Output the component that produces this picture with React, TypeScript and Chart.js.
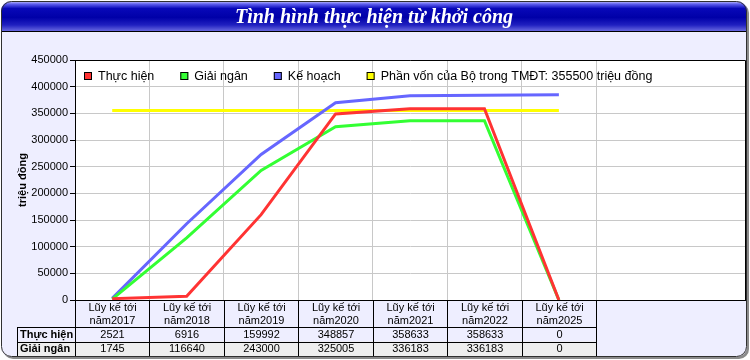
import React, { useEffect, useRef } from 'react';
import { Chart, registerables } from 'chart.js';

Chart.register(...registerables);

const TITLE = 'Tình hình thực hiện từ khởi công';
const Y_TITLE = 'triệu đồng';
const HEADER_LINE1 = ['Lũy kế tới', 'Lũy kế tới', 'Lũy kế tới', 'Lũy kế tới', 'Lũy kế tới', 'Lũy kế tới', 'Lũy kế tới'];
const HEADER_LINE2 = ['năm2017', 'năm2018', 'năm2019', 'năm2020', 'năm2021', 'năm2022', 'năm2025'];
const EXTRA_SLOTS = ['', ''];

const SERIES_NAMES = ['Thực hiện', 'Giải ngân', 'Kế hoạch', 'Phần vốn của Bộ trong TMĐT: 355500 triệu đồng'];
const THUC_HIEN = [2521, 6916, 159992, 348857, 358633, 358633, 0];
const GIAI_NGAN = [1745, 116640, 243000, 325005, 336183, 336183, 0];
const KE_HOACH = [3000, 143000, 273000, 370000, 383000, 384000, 385000];
const PHAN_VON = [355500, 355500, 355500, 355500, 355500, 355500, 355500];
const TABLE_ROWS = ['Thực hiện', 'Giải ngân'];
const TABLE_VALUES = [THUC_HIEN, GIAI_NGAN];

const Y_MIN = 0;
const Y_MAX = 450000;
const Y_STEP = 50000;

const COLORS = ['#ff3333', '#33ff33', '#6666ff', '#ffff00'];
const FONT = '"Liberation Sans", Arial, sans-serif';

function roundPath(ctx: CanvasRenderingContext2D, x: number, y: number, w: number, h: number, r: number) {
  ctx.beginPath();
  ctx.moveTo(x + r, y);
  ctx.lineTo(x + w - r, y);
  ctx.arcTo(x + w, y, x + w, y + r, r);
  ctx.lineTo(x + w, y + h - r);
  ctx.arcTo(x + w, y + h, x + w - r, y + h, r);
  ctx.lineTo(x + r, y + h);
  ctx.arcTo(x, y + h, x, y + h - r, r);
  ctx.lineTo(x, y + r);
  ctx.arcTo(x, y, x + r, y, r);
  ctx.closePath();
}

const framePlugin = {
  id: 'frameTable',
  beforeDraw(chart: any) {
    const ctx: CanvasRenderingContext2D = chart.ctx;
    const W = chart.width;
    const H = chart.height;
    ctx.save();
    ctx.fillStyle = '#ffffff';
    ctx.fillRect(0, 0, W, H);
    roundPath(ctx, 3, 3, W - 4, H - 4, 10);
    ctx.fillStyle = '#8a8a8a';
    ctx.fill();
    roundPath(ctx, 1, 1, W - 4, H - 4, 10);
    ctx.fillStyle = '#eeeeff';
    ctx.fill();
    ctx.save();
    roundPath(ctx, 1, 1, W - 4, H - 4, 10);
    ctx.clip();
    const g = ctx.createLinearGradient(0, 1, 0, 31);
    g.addColorStop(0, '#d0d0ff');
    g.addColorStop(0.1, '#6060f0');
    g.addColorStop(0.25, '#0808b8');
    g.addColorStop(0.55, '#0000a8');
    g.addColorStop(0.8, '#2020c0');
    g.addColorStop(1, '#6868e0');
    ctx.fillStyle = g;
    ctx.fillRect(0, 0, W, 31);
    ctx.fillStyle = '#000000';
    ctx.fillRect(0, 31, W, 1);
    ctx.restore();
    const a = chart.chartArea;
    ctx.fillStyle = '#ffffff';
    ctx.fillRect(a.left, a.top, a.right - a.left, a.bottom - a.top);
    ctx.restore();
  },
  afterDraw(chart: any) {
    const ctx: CanvasRenderingContext2D = chart.ctx;
    const W = chart.width;
    const H = chart.height;
    const a = chart.chartArea;
    const xs = chart.scales.x;
    ctx.save();

    ctx.strokeStyle = '#000000';
    ctx.lineWidth = 1;
    ctx.beginPath();
    ctx.moveTo(a.left, a.top + 0.5);
    ctx.lineTo(a.right + 0.5, a.top + 0.5);
    ctx.lineTo(a.right + 0.5, a.bottom);
    ctx.stroke();

    ctx.fillStyle = '#ffffff';
    ctx.font = 'italic bold 20px "Liberation Serif", "Times New Roman", serif';
    ctx.textAlign = 'center';
    ctx.textBaseline = 'alphabetic';
    ctx.fillText(TITLE, W / 2 - 1, 23);

    ctx.font = '12.5px ' + FONT;
    ctx.textAlign = 'left';
    ctx.textBaseline = 'middle';
    let lx = a.left + 9;
    const ly = a.top + 12;
    SERIES_NAMES.forEach((name, i) => {
      ctx.fillStyle = COLORS[i];
      ctx.fillRect(lx, ly, 8, 8);
      ctx.strokeStyle = '#000000';
      ctx.strokeRect(lx + 0.5, ly + 0.5, 7, 7);
      ctx.fillStyle = '#000000';
      ctx.fillText(name, lx + 14, ly + 4.5);
      lx += 14 + ctx.measureText(name).width + 26;
    });

    ctx.save();
    roundPath(ctx, 1, 1, W - 4, H - 5, 10);
    ctx.clip();
    const half = (xs.getPixelForValue(1) - xs.getPixelForValue(0)) / 2;
    const n = HEADER_LINE2.length;
    const colL = (i: number) => Math.round(xs.getPixelForValue(i) - half);
    const colR = (i: number) => Math.round(xs.getPixelForValue(i) + half);
    const top = Math.round(a.bottom);
    const headBottom = top + 27;
    const rowH = 14.5;
    const labelLeft = 17;
    const rowsAll = TABLE_ROWS.length + 1;
    const tableBottom = headBottom + rowsAll * rowH;
    const rowFill = ['#eeeeff', '#eeeeee', '#eeeeff'];
    for (let r = 0; r < rowsAll; r++) {
      ctx.fillStyle = rowFill[r];
      const y0 = headBottom + r * rowH;
      ctx.fillRect(labelLeft, y0, colR(n - 1) - labelLeft, rowH);
    }
    ctx.strokeStyle = '#000000';
    ctx.lineWidth = 1;
    ctx.beginPath();
    const hl = (x0: number, x1: number, y: number) => {
      const yy = Math.round(y) + 0.5;
      ctx.moveTo(x0, yy);
      ctx.lineTo(x1, yy);
    };
    const vl = (x: number, y0: number, y1: number) => {
      const xx = Math.round(x) + 0.5;
      ctx.moveTo(xx, y0);
      ctx.lineTo(xx, y1);
    };
    hl(a.left, colR(n - 1) + 1, headBottom);
    for (let r = 1; r <= rowsAll; r++) hl(labelLeft, colR(n - 1) + 1, headBottom + r * rowH);
    hl(labelLeft, a.left, headBottom);
    vl(labelLeft, headBottom, tableBottom);
    vl(a.left, top, tableBottom);
    for (let i = 0; i < n; i++) vl(colR(i), top, tableBottom);
    ctx.stroke();

    ctx.fillStyle = '#000000';
    ctx.font = '11px ' + FONT;
    ctx.textAlign = 'center';
    ctx.textBaseline = 'middle';
    for (let i = 0; i < n; i++) {
      const cx = (colL(i) + colR(i)) / 2 + 0.5;
      ctx.fillText(HEADER_LINE1[i], cx, top + 8);
      ctx.fillText(HEADER_LINE2[i], cx, top + 21);
    }
    TABLE_ROWS.forEach((name, r) => {
      const cy = headBottom + r * rowH + rowH / 2 + 0.5;
      ctx.font = 'bold 11px ' + FONT;
      ctx.textAlign = 'left';
      ctx.fillText(name, labelLeft + 3, cy);
      ctx.font = '11px ' + FONT;
      ctx.textAlign = 'center';
      TABLE_VALUES[r].forEach((v, i) => {
        const cx = (colL(i) + colR(i)) / 2 + 0.5;
        ctx.fillText(String(v), cx, cy);
      });
    });
    ctx.restore();

    roundPath(ctx, 1.5, 1.5, W - 5, H - 5, 10);
    ctx.strokeStyle = '#303030';
    ctx.lineWidth = 1;
    ctx.stroke();
    ctx.restore();
  },
};

export default function App() {
  const ref = useRef<HTMLCanvasElement | null>(null);

  useEffect(() => {
    if (!ref.current) return;
    const labels = [...HEADER_LINE1.map((l, i) => l + ' ' + HEADER_LINE2[i]), ...EXTRA_SLOTS];
    const seriesData = [THUC_HIEN, GIAI_NGAN, KE_HOACH, PHAN_VON];
    const chart = new Chart(ref.current, {
      type: 'line',
      data: {
        labels,
        datasets: SERIES_NAMES.map((name, i) => ({
          label: name,
          data: seriesData[i],
          borderColor: COLORS[i],
          backgroundColor: COLORS[i],
          borderWidth: 3,
          pointRadius: 0,
          pointHoverRadius: 0,
          tension: 0,
          fill: false,
        })),
      },
      options: {
        animation: false,
        responsive: false,
        events: [],
        layout: { padding: { left: 0, top: 60, right: 5, bottom: 60 } },
        plugins: {
          legend: { display: false },
          tooltip: { enabled: false },
          title: { display: false },
        },
        scales: {
          x: {
            type: 'category',
            offset: true,
            grid: {
              offset: true,
              drawTicks: false,
              lineWidth: 1,
              color: (c: any) =>
                c.index !== undefined && c.index >= 1 && c.index <= HEADER_LINE2.length ? '#c8c8c8' : 'rgba(0,0,0,0)',
            },
            border: { color: '#000000', width: 1 },
            ticks: { display: false },
            afterFit: (s: any) => {
              s.height = 0;
            },
          },
          y: {
            min: Y_MIN,
            max: Y_MAX,
            ticks: {
              stepSize: Y_STEP,
              color: '#000000',
              padding: 2,
              font: { family: FONT, size: 11 },
              callback: (v: any) => String(v),
            },
            grid: { color: '#c8c8c8', tickColor: '#000000', tickLength: 5, lineWidth: 1 },
            border: { color: '#000000', width: 1 },
            title: {
              display: true,
              text: Y_TITLE,
              color: '#000000',
              font: { family: FONT, size: 11, weight: 'bold' },
              padding: { top: 16, bottom: 0 },
            },
            afterFit: (s: any) => {
              s.width = 75;
            },
          },
        },
      },
      plugins: [framePlugin],
    });
    return () => chart.destroy();
  }, []);

  return (
    <div style={{ position: 'absolute', left: 0, top: 0, width: 750, height: 360 }}>
      <canvas ref={ref} width={750} height={360} style={{ display: 'block', width: 750, height: 360 }} />
    </div>
  );
}
